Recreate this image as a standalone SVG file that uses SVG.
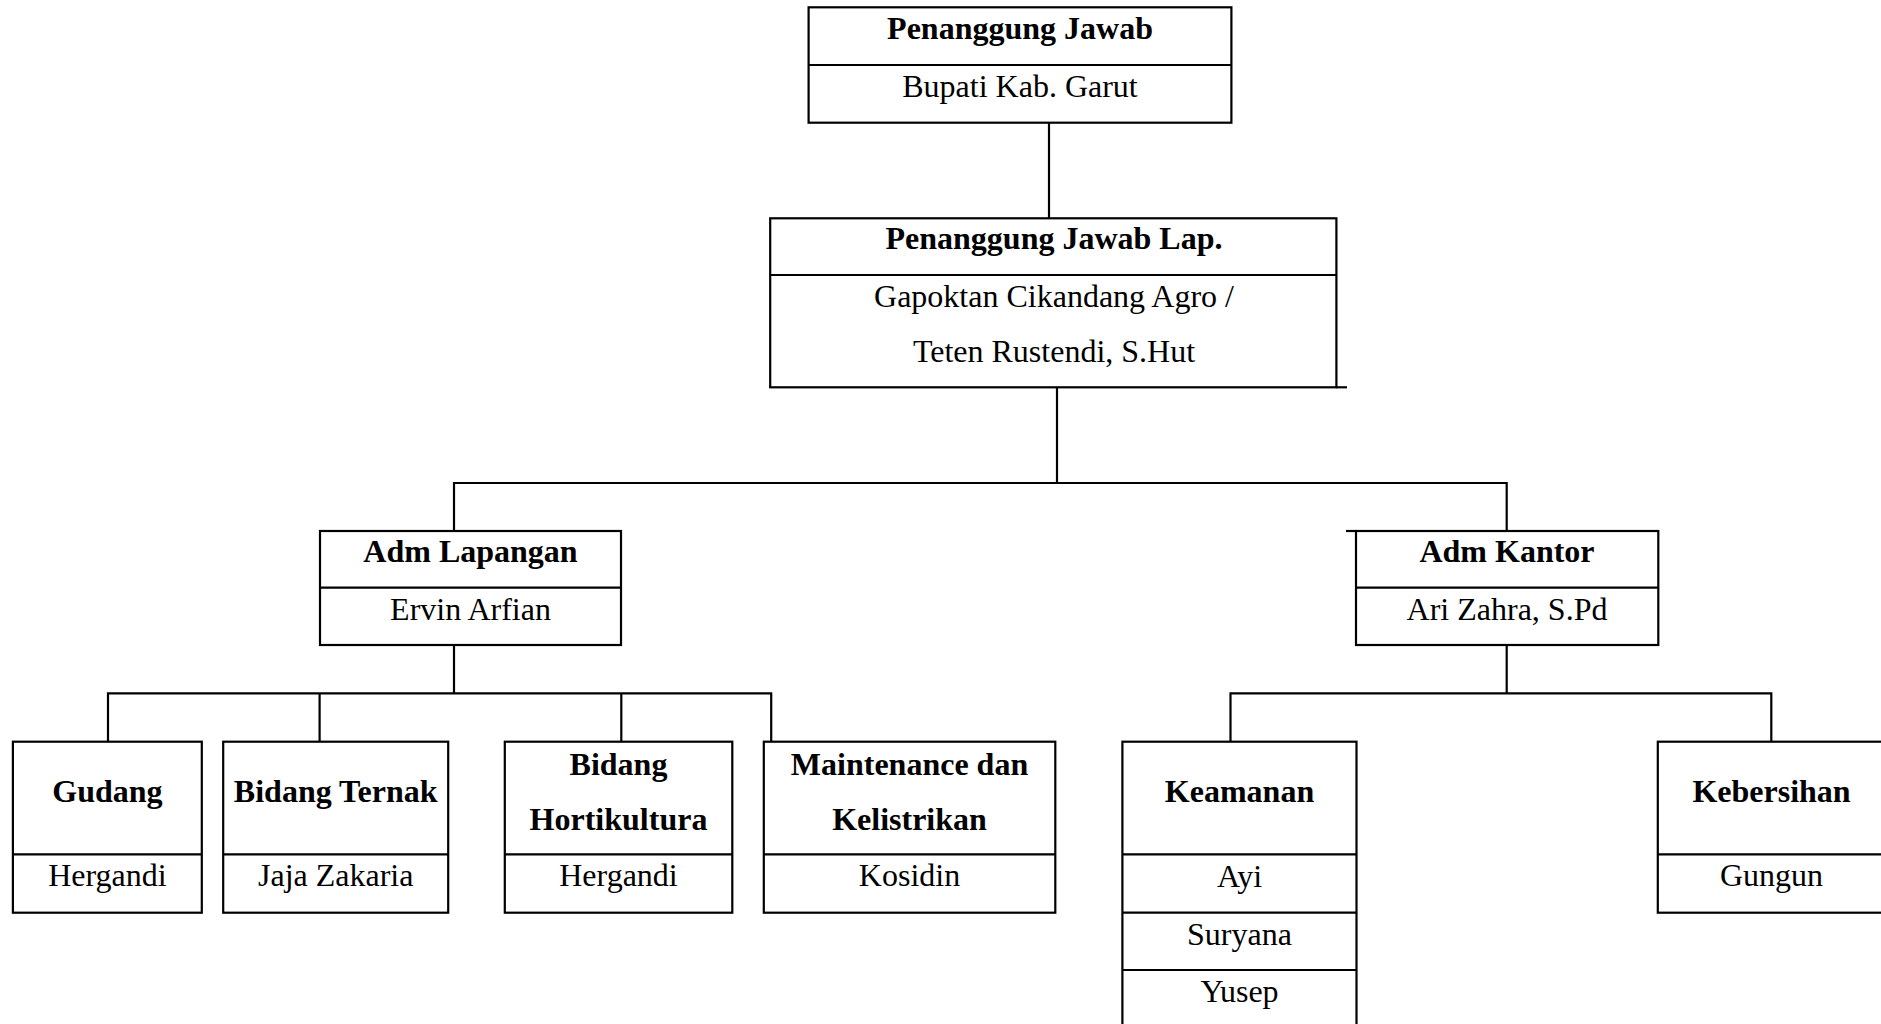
<svg xmlns="http://www.w3.org/2000/svg" width="1881" height="1024" viewBox="0 0 1881 1024">
<style>
.box{fill:#fff;stroke:#000;stroke-width:2.2}
.ln{stroke:#000;stroke-width:2.2;fill:none}
.t{font-family:"Liberation Serif","Times New Roman",serif;font-size:32px;fill:#000;text-anchor:middle}
.b{font-weight:bold}
</style>
<rect width="1881" height="1024" fill="#fff"/>
<g id="connectors">
<path class="ln" d="M1049 122.7V218.3"/>
<path class="ln" d="M1057 387.3V483H454V531M1057 483H1506.7V531"/>
<path class="ln" d="M454 645V693.3M108 741.7V693.3H771.2V741.7M319.6 693.3V741.7M621.3 693.3V741.7"/>
<path class="ln" d="M1506.7 645V693.3M1230.5 741.7V693.3H1771.3V741.7"/>
</g>
<g id="node-penanggung-jawab">
<rect class="box" x="808.6" y="7.3" width="422.8" height="115.4"/>
<line class="ln" x1="808.6" y1="65" x2="1231.4" y2="65"/>
<text class="t b" x="1020" y="39">Penanggung Jawab</text>
<text class="t" x="1020" y="97">Bupati Kab. Garut</text>
</g>
<g id="node-penanggung-jawab-lap">
<rect class="box" x="770.2" y="218.3" width="566.2" height="169"/>
<line class="ln" x1="770.2" y1="275" x2="1336.4" y2="275"/>
<line class="ln" x1="1336.4" y1="387.3" x2="1347" y2="387.3"/>
<text class="t b" x="1054" y="248.5">Penanggung Jawab Lap.</text>
<text class="t" x="1054" y="307">Gapoktan Cikandang Agro /</text>
<text class="t" x="1054" y="362">Teten Rustendi, S.Hut</text>
</g>
<g id="node-adm-lapangan">
<rect class="box" x="320" y="531" width="301" height="114"/>
<line class="ln" x1="320" y1="587.7" x2="621" y2="587.7"/>
<text class="t b" x="470.5" y="562">Adm Lapangan</text>
<text class="t" x="470.5" y="619.5">Ervin Arfian</text>
</g>
<g id="node-adm-kantor">
<rect class="box" x="1356" y="531" width="302.3" height="114"/>
<line class="ln" x1="1356" y1="587.7" x2="1658.3" y2="587.7"/>
<line class="ln" x1="1346" y1="531" x2="1356" y2="531"/>
<text class="t b" x="1507" y="562">Adm Kantor</text>
<text class="t" x="1507" y="619.5">Ari Zahra, S.Pd</text>
</g>
<g id="node-gudang">
<rect class="box" x="12.9" y="741.7" width="188.9" height="171"/>
<line class="ln" x1="12.9" y1="854.3" x2="201.8" y2="854.3"/>
<text class="t b" x="107.4" y="802">Gudang</text>
<text class="t" x="107.4" y="886">Hergandi</text>
</g>
<g id="node-bidang-ternak">
<rect class="box" x="223.2" y="741.7" width="225" height="171"/>
<line class="ln" x1="223.2" y1="854.3" x2="448.2" y2="854.3"/>
<text class="t b" x="335.7" y="802">Bidang Ternak</text>
<text class="t" x="335.7" y="886">Jaja Zakaria</text>
</g>
<g id="node-bidang-hortikultura">
<rect class="box" x="504.8" y="741.7" width="227.5" height="171"/>
<line class="ln" x1="504.8" y1="854.3" x2="732.3" y2="854.3"/>
<text class="t b" x="618.5" y="775">Bidang</text>
<text class="t b" x="618.5" y="830">Hortikultura</text>
<text class="t" x="618.5" y="886">Hergandi</text>
</g>
<g id="node-maintenance">
<rect class="box" x="763.8" y="741.7" width="291.5" height="171"/>
<line class="ln" x1="763.8" y1="854.3" x2="1055.3" y2="854.3"/>
<text class="t b" x="909.5" y="775">Maintenance dan</text>
<text class="t b" x="909.5" y="830">Kelistrikan</text>
<text class="t" x="909.5" y="886">Kosidin</text>
</g>
<g id="node-keamanan">
<rect class="box" x="1122.4" y="741.7" width="234.1" height="345"/>
<line class="ln" x1="1122.4" y1="854.3" x2="1356.5" y2="854.3"/>
<line class="ln" x1="1122.4" y1="912.7" x2="1356.5" y2="912.7"/>
<line class="ln" x1="1122.4" y1="970" x2="1356.5" y2="970"/>
<text class="t b" x="1239.5" y="802">Keamanan</text>
<text class="t" x="1239.5" y="887">Ayi</text>
<text class="t" x="1239.5" y="945">Suryana</text>
<text class="t" x="1239.5" y="1002">Yusep</text>
</g>
<g id="node-kebersihan">
<rect class="box" x="1657.8" y="741.7" width="228" height="171"/>
<line class="ln" x1="1657.8" y1="854.3" x2="1885.8" y2="854.3"/>
<text class="t b" x="1771.5" y="802">Kebersihan</text>
<text class="t" x="1771.5" y="886">Gungun</text>
</g>
</svg>
